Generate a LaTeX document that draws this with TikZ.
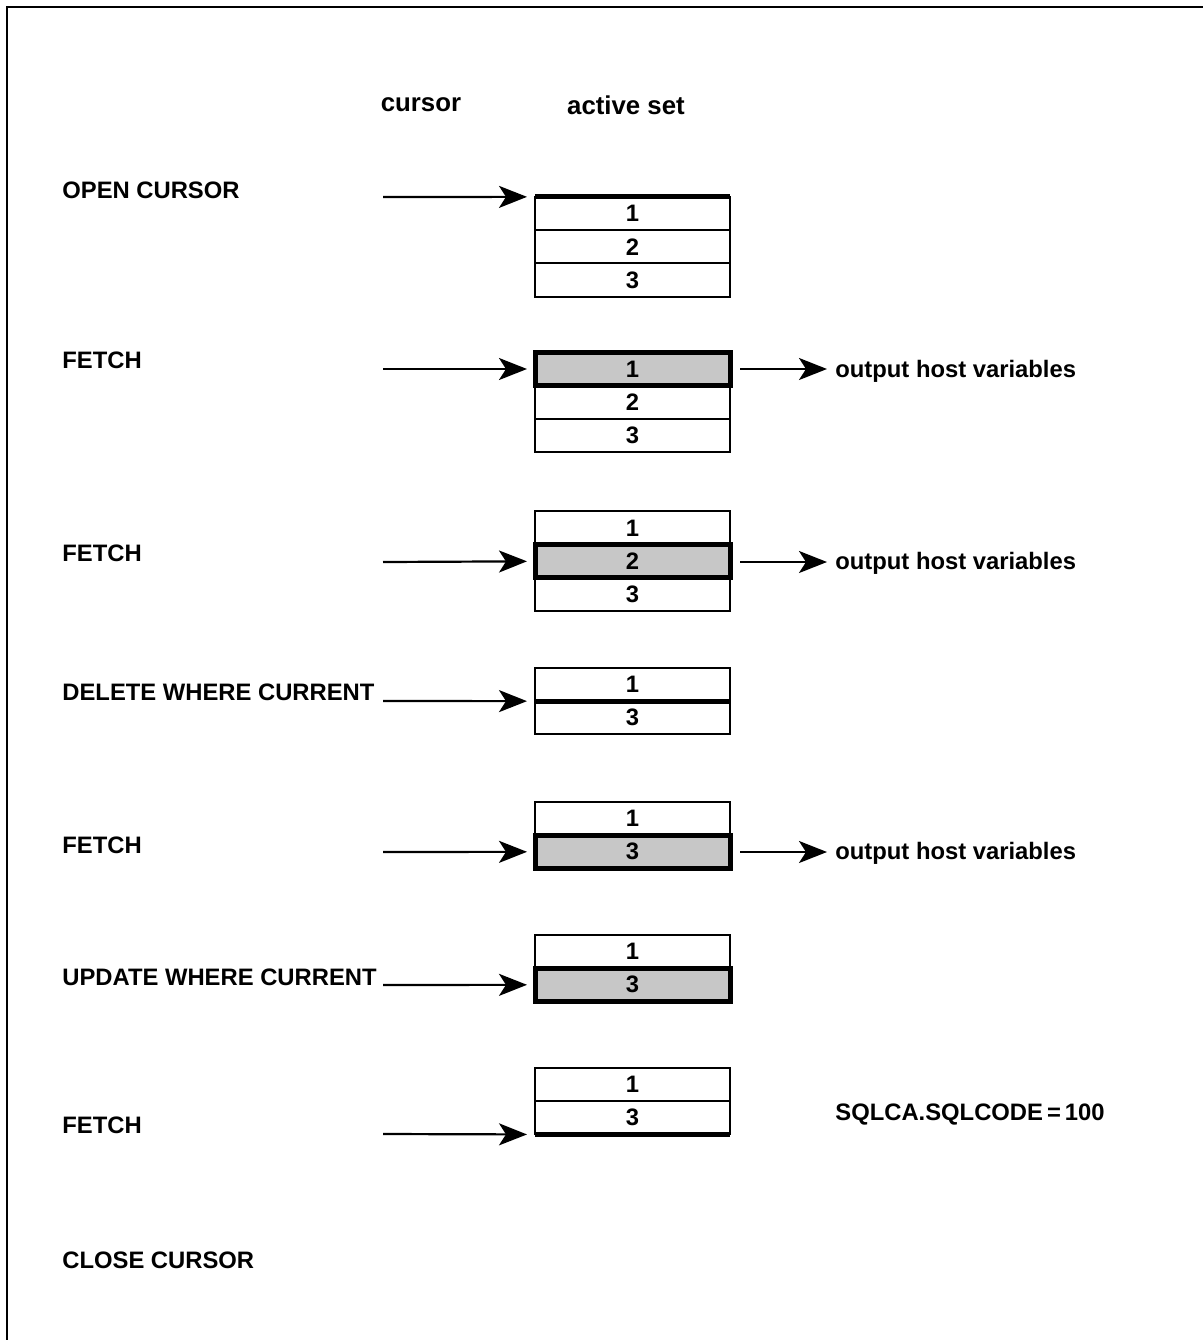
\documentclass[tikz,border=0pt]{standalone}
\usepackage{fontspec}
\setmainfont{Liberation Sans}
\usetikzlibrary{arrows.meta, positioning}

\begin{document}
\begin{tikzpicture}[
  x=0.5pt, y=-0.5pt,
  every node/.style={font=\fontsize{11.9}{14}\selectfont\bfseries},
  head/.style={font=\fontsize{12.9}{15}\selectfont\bfseries},
  cmd/.style={anchor=west, inner sep=0pt},
  cell/.style={draw, line width=1pt, minimum width=97.5pt, minimum height=16.65pt, inner sep=0pt, outer sep=0pt},
  cur/.style={cell, line width=2.5pt, fill=black!22},
  thickline/.style={line width=2.5pt},
  arr/.style={-{Stealth[length=14pt, width=11pt, inset=3.5pt]}, line width=1.1pt, shorten >=4pt},
  hostvar/.style={anchor=west, inner sep=0pt}
]
\useasboundingbox (0,0) rectangle (1203,1340);
\draw[line width=1pt] (7,1340) -- (7,7) -- (1203,7);

\node[head] (hcur) at (421,105) {cursor};
\node[head] (hset) at (626,105) {active set};

% OPEN CURSOR
\node[cmd] (open) at (62,190) {OPEN CURSOR};
\coordinate (s1) at (383,197);
\node[cell] (o1) at (632.5,213.5) {1};
\node[cell, below=0pt of o1] (o2) {2};
\node[cell, below=0pt of o2] (o3) {3};
\draw[thickline] (o1.north west) -- (o1.north east);
\draw[arr] (s1) -- (o1.north west);

% FETCH
\node[cmd] (fetchA) at (62,360) {FETCH};
\coordinate (s2) at (383,369);
\node[cur] (f1a) at (632.5,369) {1};
\node[cell, below=0pt of f1a] (f1b) {2};
\node[cell, below=0pt of f1b] (f1c) {3};
\node[hostvar] (outA) at (835,371) {output host variables};
\coordinate (e2) at (740,369);
\draw[arr] (s2) -- (f1a.west);
\draw[arr] (e2) -- (outA.west |- e2);

% FETCH
\node[cmd] (fetchB) at (62,553) {FETCH};
\coordinate (s3) at (383,562);
\node[cell] (f2a) at (632.5,528) {1};
\node[cur, below=0pt of f2a] (f2b) {2};
\node[cell, below=0pt of f2b] (f2c) {3};
\node[hostvar] (outB) at (835,563) {output host variables};
\coordinate (e3) at (740,562);
\draw[arr] (s3) -- (f2b.west);
\draw[arr] (e3) -- (outB.west |- e3);

% DELETE WHERE CURRENT
\node[cmd] (del) at (62,692) {DELETE WHERE CURRENT};
\coordinate (s4) at (383,701);
\node[cell] (d1) at (632.5,684.5) {1};
\node[cell, below=0pt of d1] (d3) {3};
\draw[thickline] (d1.south west) -- (d1.south east);
\draw[arr] (s4) -- (d1.south west);

% FETCH
\node[cmd] (fetchC) at (62,845) {FETCH};
\coordinate (s5) at (383,852);
\node[cell] (f3a) at (632.5,818.5) {1};
\node[cur, below=0pt of f3a] (f3b) {3};
\node[hostvar] (outC) at (835,853) {output host variables};
\coordinate (e5) at (740,852);
\draw[arr] (s5) -- (f3b.west);
\draw[arr] (e5) -- (outC.west |- e5);

% UPDATE WHERE CURRENT
\node[cmd] (upd) at (62,977) {UPDATE WHERE CURRENT};
\coordinate (s6) at (383,985);
\node[cell] (u1) at (632.5,951.5) {1};
\node[cur, below=0pt of u1] (u3) {3};
\draw[arr] (s6) -- (u3.west);

% FETCH
\node[cmd] (fetchD) at (62,1125) {FETCH};
\coordinate (s7) at (383,1134);
\node[cell] (f4a) at (632.5,1084.5) {1};
\node[cell, below=0pt of f4a] (f4b) {3};
\draw[thickline] (f4b.south west) -- (f4b.south east);
\draw[arr] (s7) -- (f4b.south west);
\node[hostvar] (code) at (835,1115) {SQLCA.SQLCODE\hspace{2pt}=\hspace{2pt}100};

% CLOSE CURSOR
\node[cmd] (close) at (62,1260) {CLOSE CURSOR};
\end{tikzpicture}
\end{document}
